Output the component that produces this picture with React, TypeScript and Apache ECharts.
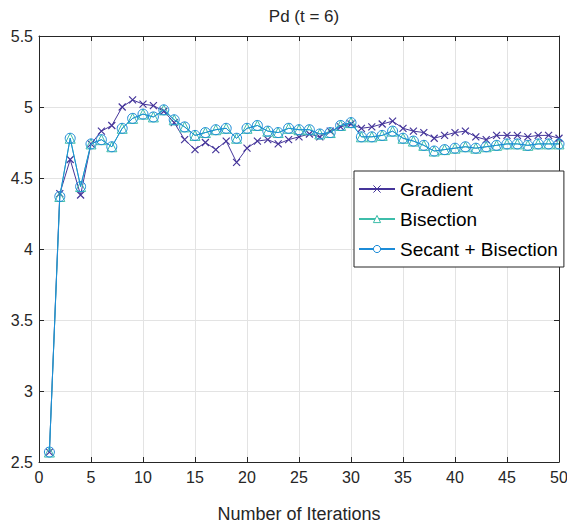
import React, { useEffect, useRef } from "react";
import * as echarts from "echarts";

const iterations: number[] = Array.from({ length: 50 }, (_, i) => i + 1);

const gradient: number[] = [
  2.57, 4.39, 4.63, 4.38, 4.74, 4.83, 4.87, 5.0, 5.05, 5.02,
  5.01, 4.97, 4.89, 4.77, 4.7, 4.75, 4.7, 4.76, 4.61, 4.71,
  4.76, 4.77, 4.74, 4.77, 4.79, 4.81, 4.79, 4.83, 4.86, 4.88,
  4.85, 4.86, 4.88, 4.9, 4.85, 4.83, 4.82, 4.78, 4.8, 4.82,
  4.83, 4.79, 4.77, 4.8, 4.8, 4.8, 4.79, 4.8, 4.8, 4.78,
];

const bisection: number[] = [
  2.57, 4.37, 4.78, 4.44, 4.74, 4.77, 4.72, 4.85, 4.92, 4.95,
  4.93, 4.98, 4.91, 4.86, 4.8, 4.82, 4.84, 4.85, 4.78, 4.85,
  4.87, 4.83, 4.82, 4.85, 4.84, 4.84, 4.81, 4.82, 4.87, 4.89,
  4.79, 4.79, 4.8, 4.83, 4.78, 4.76, 4.73, 4.69, 4.7, 4.71,
  4.72, 4.71, 4.72, 4.73, 4.74, 4.74, 4.73, 4.74, 4.74, 4.74,
];

const secantBisection: number[] = [
  2.57, 4.37, 4.78, 4.44, 4.74, 4.77, 4.72, 4.85, 4.92, 4.95,
  4.93, 4.98, 4.91, 4.86, 4.8, 4.82, 4.84, 4.85, 4.78, 4.85,
  4.87, 4.83, 4.82, 4.85, 4.84, 4.84, 4.81, 4.82, 4.87, 4.89,
  4.79, 4.79, 4.8, 4.83, 4.78, 4.76, 4.73, 4.69, 4.7, 4.71,
  4.72, 4.71, 4.72, 4.73, 4.74, 4.74, 4.73, 4.74, 4.74, 4.74,
];

const seriesNames = ["Gradient", "Bisection", "Secant + Bisection"];
const titleText = "Pd (t = 6)";
const xAxisName = "Number of Iterations";

const FONT = "'Liberation Sans', Arial, Helvetica, sans-serif";
const AXIS = "#262626";
const colors = ["#45359a", "#3dbdaa", "#1c8cd8"];

export default function App() {
  const ref = useRef<HTMLDivElement>(null);

  useEffect(() => {
    if (!ref.current) return;
    const chart = echarts.init(ref.current, null, { renderer: "svg" });

    const mk = (vals: number[]) => iterations.map((x, i) => [x, vals[i]]);

    const series: any[] = [
      {
        name: seriesNames[0],
        type: "line",
        data: mk(gradient),
        symbol: "path://M0,0L10,10M10,0L0,10",
        symbolSize: 7,
        showAllSymbol: true,
        lineStyle: { color: colors[0], width: 1 },
        itemStyle: { color: "rgba(0,0,0,0)", borderColor: colors[0], borderWidth: 1.2 },
        z: 2,
      },
      {
        name: seriesNames[1],
        type: "line",
        data: mk(bisection),
        symbol: "triangle",
        symbolSize: 10,
        showAllSymbol: true,
        lineStyle: { color: colors[1], width: 1 },
        itemStyle: { color: "rgba(0,0,0,0)", borderColor: colors[1], borderWidth: 1 },
        z: 3,
      },
      {
        name: seriesNames[2],
        type: "line",
        data: mk(secantBisection),
        symbol: "circle",
        symbolSize: 10,
        showAllSymbol: true,
        lineStyle: { color: colors[2], width: 1 },
        itemStyle: { color: "rgba(0,0,0,0)", borderColor: colors[2], borderWidth: 1 },
        z: 4,
      },
    ];

    chart.setOption({
      animation: false,
      backgroundColor: "#ffffff",
      title: {
        text: titleText,
        left: 299,
        textAlign: "center",
        top: 3,
        textStyle: { fontFamily: FONT, fontSize: 17, fontWeight: "normal", color: AXIS },
      },
      legend: {
        data: seriesNames,
        orient: "vertical",
        left: 354,
        top: 171,
        backgroundColor: "#ffffff",
        borderColor: AXIS,
        borderWidth: 1,
        borderRadius: 0,
        padding: [8, 6, 8, 4],
        itemGap: 10,
        itemWidth: 36,
        itemHeight: 9,
        itemStyle: { color: "#ffffff", borderWidth: 1 },
        textStyle: { fontFamily: FONT, fontSize: 19, color: "#000", lineHeight: 20 },
      },
      grid: {
        left: 39,
        right: 8,
        top: 36,
        bottom: 61,
        containLabel: false,
        outerBoundsMode: "none",
      },
      xAxis: [
        {
          type: "value",
          min: 0,
          max: 50,
          interval: 5,
          name: xAxisName,
          nameLocation: "middle",
          nameGap: 43,
          nameTextStyle: { fontFamily: FONT, fontSize: 18, color: AXIS },
          axisLine: { show: true, onZero: false, lineStyle: { color: AXIS, width: 1 } },
          axisTick: { show: true, inside: true, length: 5, lineStyle: { color: AXIS } },
          axisLabel: { fontFamily: FONT, fontSize: 16, color: AXIS, margin: 7 },
          splitLine: { show: true, lineStyle: { color: "#e3e3e3", width: 1 } },
        },
        {
          type: "value",
          position: "top",
          min: 0,
          max: 50,
          interval: 5,
          axisLine: { show: true, onZero: false, lineStyle: { color: AXIS, width: 1 } },
          axisTick: { show: true, inside: true, length: 5, lineStyle: { color: AXIS } },
          axisLabel: { show: false },
          splitLine: { show: false },
        },
      ],
      yAxis: [
        {
          type: "value",
          min: 2.5,
          max: 5.5,
          interval: 0.5,
          axisLine: { show: true, onZero: false, lineStyle: { color: AXIS, width: 1 } },
          axisTick: { show: true, inside: true, length: 5, lineStyle: { color: AXIS } },
          axisLabel: { fontFamily: FONT, fontSize: 16, color: AXIS, margin: 6 },
          splitLine: { show: true, lineStyle: { color: "#e3e3e3", width: 1 } },
        },
        {
          type: "value",
          position: "right",
          min: 2.5,
          max: 5.5,
          interval: 0.5,
          axisLine: { show: true, onZero: false, lineStyle: { color: AXIS, width: 1 } },
          axisTick: { show: true, inside: true, length: 5, lineStyle: { color: AXIS } },
          axisLabel: { show: false },
          splitLine: { show: false },
        },
      ],
      series,
    });

    return () => chart.dispose();
  }, []);

  return (
    <div
      ref={ref}
      style={{ position: "fixed", left: 0, top: 0, width: 567, height: 523 }}
    />
  );
}
